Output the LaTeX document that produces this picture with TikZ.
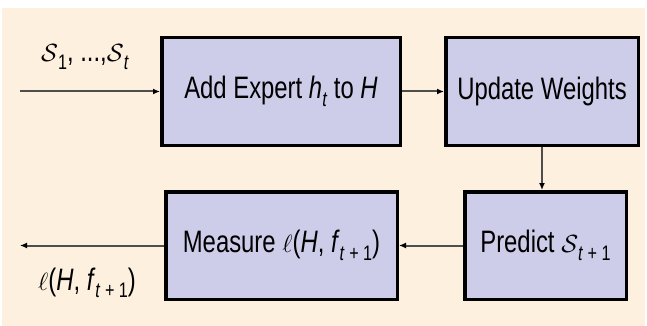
\documentclass[tikz,border=0pt]{standalone}
\usepackage{fontspec}
\setmainfont{Liberation Sans}[FakeStretch=0.77]
\usetikzlibrary{arrows.meta}

\definecolor{paper}{RGB}{253,240,223}
\definecolor{boxfill}{RGB}{205,204,233}
\definecolor{wire}{RGB}{80,78,76}

% lowered subscript in the text font
\newcommand{\lsub}[1]{\raisebox{-0.45ex}{\fontsize{21}{21}\selectfont #1}}

\begin{document}
\begin{tikzpicture}[x=1pt,y=-1pt,
  stage/.style={draw=black, line width=3.5pt, fill=boxfill, inner sep=0pt,
    minimum height=107.5pt, font=\fontsize{31}{33}\selectfont},
  flow/.style={draw=wire, line width=2pt,
    -{Latex[length=7pt,width=6pt,fill=black,color=black]}},
  caption/.style={inner sep=0pt, font=\fontsize{31}{33}\selectfont}]

  % page and paper
  \useasboundingbox (0,0) rectangle (647,326);
  \fill[white] (0,0) rectangle (647,326);
  \fill[paper] (2,8) rectangle (645,326);

  % stages
  \node[stage, minimum width=238.5pt] (add)  at (281,91.5)
    {Add Expert \textit{h}\lsub{\textit{t}} to \textit{H}};
  \node[stage, minimum width=192.5pt] (upd)  at (542,91.5)
    {Update Weights};
  \node[stage, minimum width=161.5pt] (pred) at (545.5,245.5)
    {Predict $\mathcal{S}$\lsub{\textit{t} + 1}};
  \node[stage, minimum width=231.5pt] (meas) at (281.5,245.5)
    {Measure $\ell$(\textit{H}, \textit{f}\lsub{\textit{t} + 1})};

  % free ends and their labels
  \coordinate (in)  at (20,91.5);
  \coordinate (out) at (20,245.5);
  \node[caption] (inlbl)  at (85,57)
    {$\mathcal{S}$\lsub{1}, ...,$\mathcal{S}$\lsub{\textit{t}}};
  \node[caption] (outlbl) at (87,283)
    {$\ell$(\textit{H}, \textit{f}\lsub{\textit{t} + 1})};

  % connectors
  \draw[flow] (in) -- (add.west);
  \draw[flow] (add.east) -- (upd.west);
  \draw[flow] (upd.south) -- (upd.south |- pred.north);
  \draw[flow] (pred.west) -- (meas.east);
  \draw[flow] (meas.west) -- (out);
\end{tikzpicture}
\end{document}
